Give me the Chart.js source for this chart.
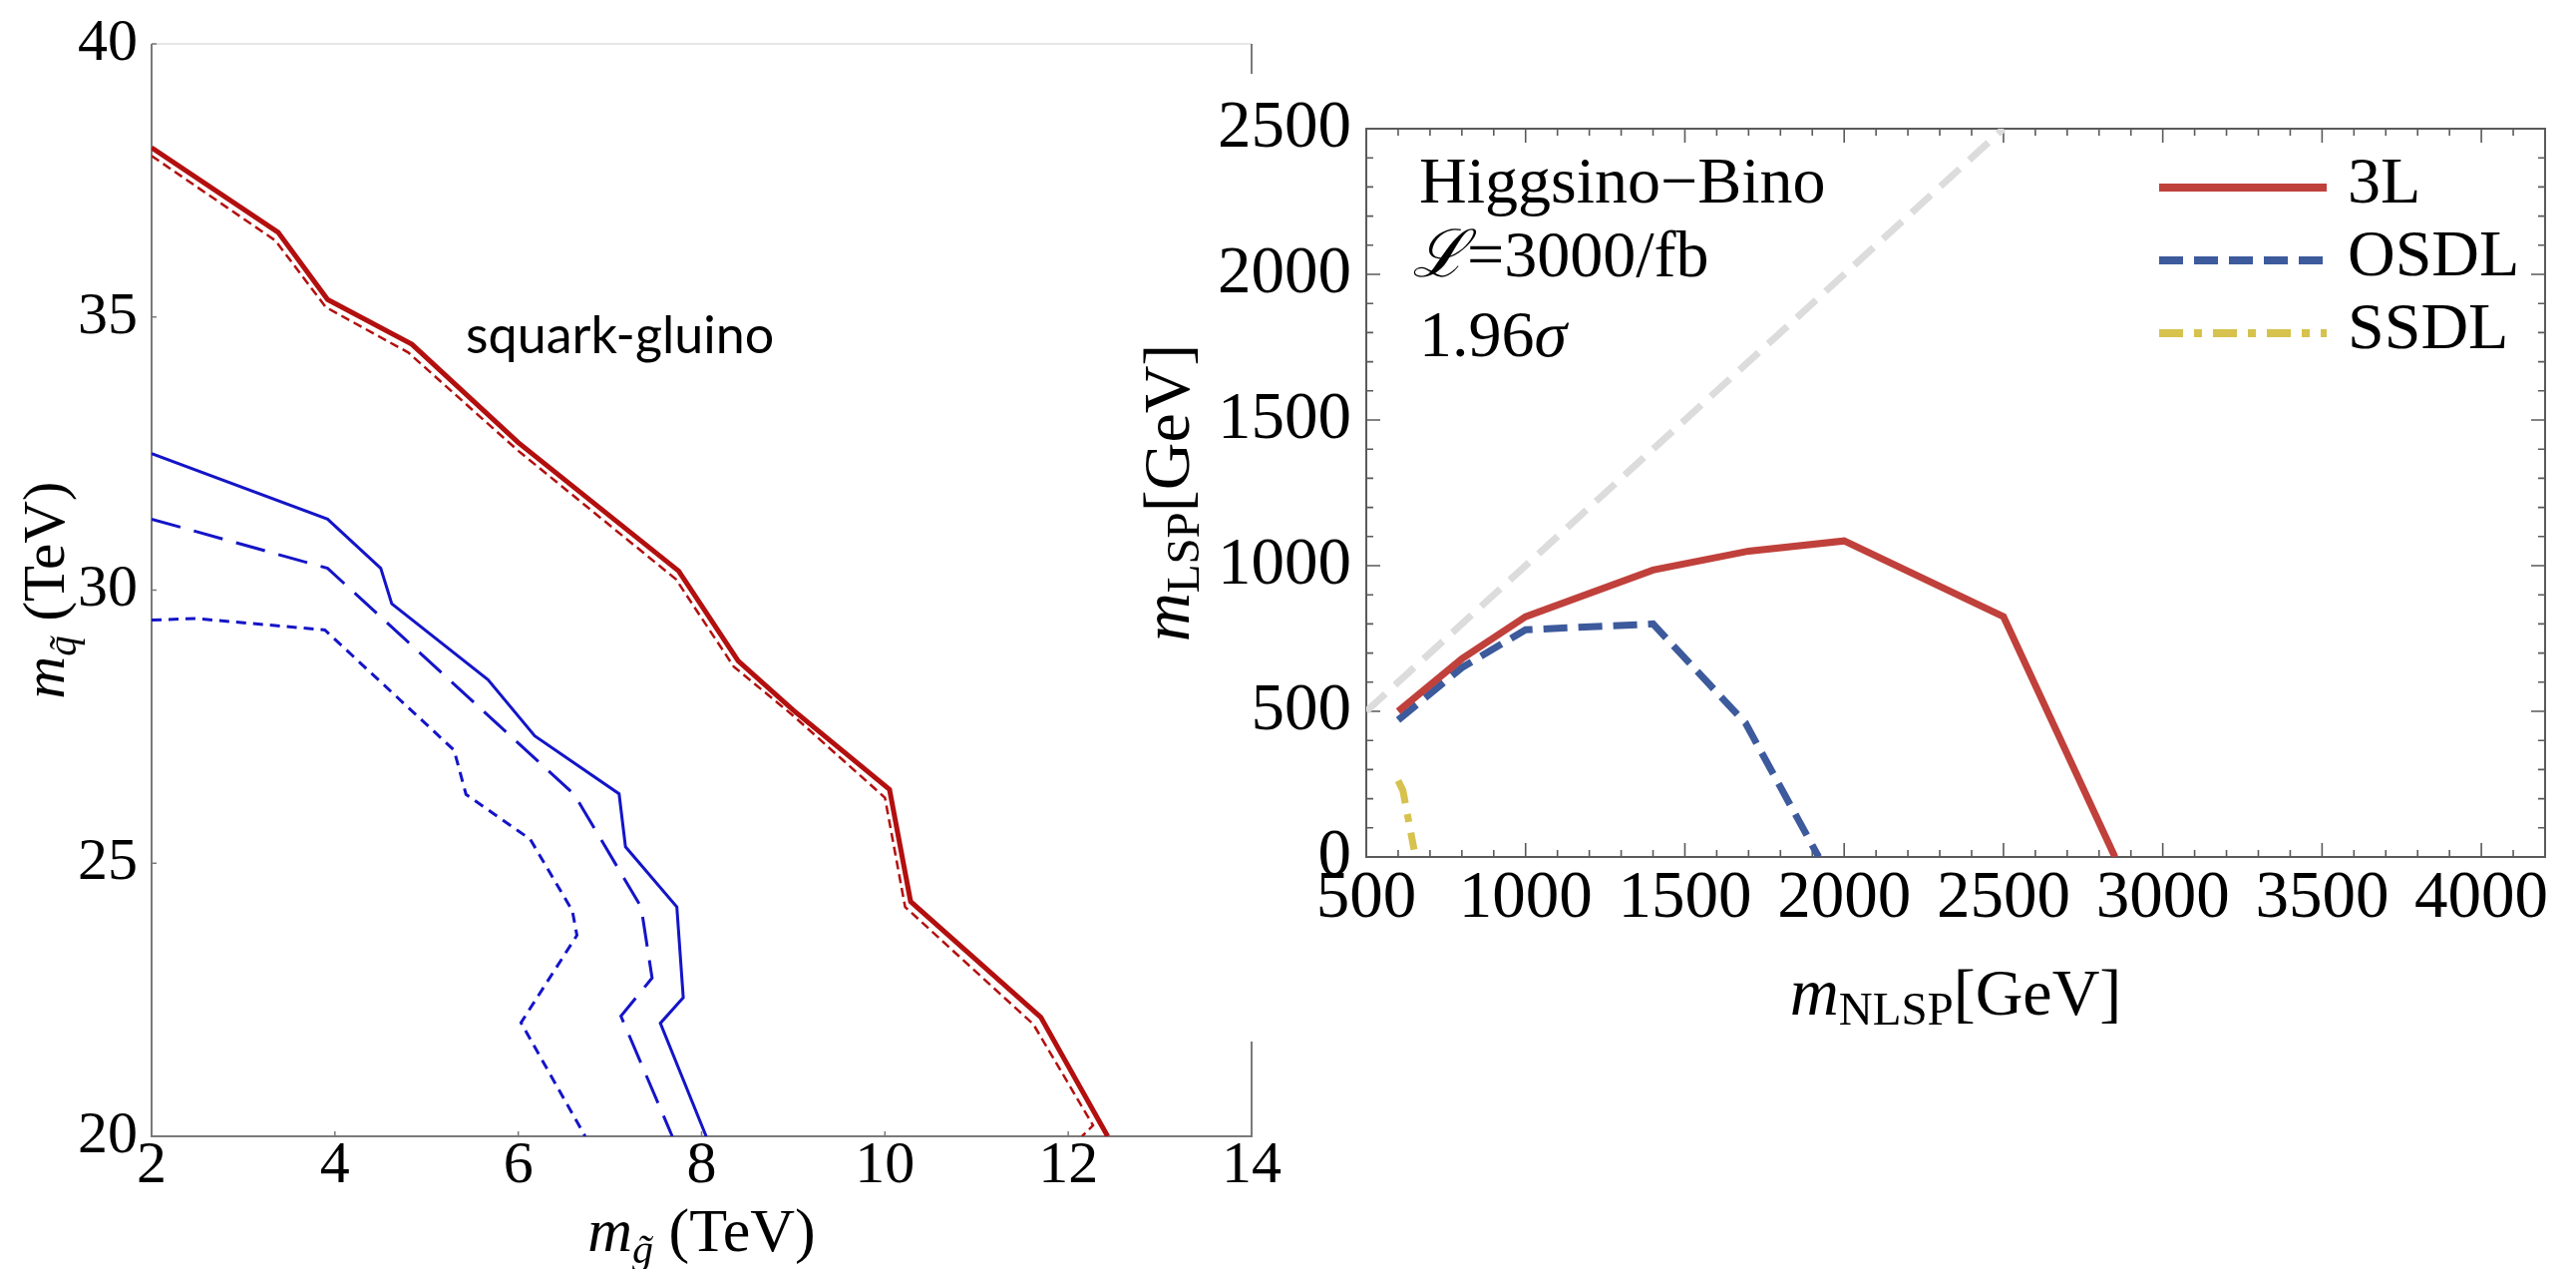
<!DOCTYPE html>
<html lang="en">
<head>
    <meta charset="UTF-8">
    <title>squark-gluino / Higgsino-Bino reach</title>
    <style>
        body { margin: 0; background: #fff; width: 2583px; height: 1272px; overflow: hidden; position: relative; }
        #left { position: absolute; left: 0; top: 0; z-index: 0; }
        #right-box { position: absolute; left: 1130px; top: 74px; width: 1453px; height: 970px; background: #fff; z-index: 1; }
        #right { position: absolute; left: 0; top: 0; }
    </style>
</head>
<body>
    <canvas id="left" width="1300" height="1272"></canvas>
    <div id="right-box"><canvas id="right" width="1453" height="970"></canvas></div>

    <script src="https://cdn.jsdelivr.net/npm/chart.js@4.4.1/dist/chart.umd.min.js"></script>
    <script>
        // ---- left panel: squark-gluino (TeV) ----
        const gluinoTicks = [2, 4, 6, 8, 10, 12, 14];
        const squarkTicks = [20, 25, 30, 35, 40];

        const redSolidX = [2, 3.38, 3.92, 4.84, 6.0, 7.75, 8.4, 9.0, 10.05, 10.28, 11.7, 12.43];
        const redSolidY = [38.1, 36.55, 35.32, 34.5, 32.7, 30.35, 28.7, 27.8, 26.35, 24.3, 22.18, 20];
        const redDashX = [2, 3.35, 3.9, 4.8, 6.0, 7.72, 8.35, 9.0, 10.0, 10.22, 11.62, 12.27, 12.15];
        const redDashY = [37.95, 36.4, 35.18, 34.35, 32.55, 30.2, 28.6, 27.7, 26.2, 24.2, 22.05, 20.2, 20];
        const blueSolidX = [2, 3.92, 4.5, 4.62, 5.67, 6.18, 7.1, 7.17, 7.73, 7.8, 7.55, 8.05];
        const blueSolidY = [32.5, 31.3, 30.4, 29.75, 28.36, 27.33, 26.27, 25.3, 24.2, 22.54, 22.07, 20];
        const blueLongX = [2, 3.92, 6.61, 7.34, 7.46, 7.12, 7.68];
        const blueLongY = [31.3, 30.4, 26.26, 24.2, 22.9, 22.2, 20];
        const blueShortX = [2, 2.48, 3.89, 5.3, 5.43, 6.13, 6.59, 6.64, 6.03, 6.73];
        const blueShortY = [29.45, 29.48, 29.27, 27.07, 26.26, 25.44, 24.13, 23.68, 22.08, 20];

        // ---- right panel: Higgsino-Bino (GeV) ----
        const nlspTicks = [500, 1000, 1500, 2000, 2500, 3000, 3500, 4000];
        const lspTicks = [0, 500, 1000, 1500, 2000, 2500];

        const threeLX = [600, 800, 1000, 1400, 1700, 2000, 2500, 2850];
        const threeLY = [500, 680, 825, 985, 1050, 1085, 825, 0];
        const osdlX = [600, 800, 1000, 1400, 1690, 1920];
        const osdlY = [470, 650, 780, 800, 460, 0];
        const ssdlX = [600, 615, 650];
        const ssdlY = [262, 228, 25];
        const diagX = [500, 2500];
        const diagY = [500, 2500];

        const serif = '"Liberation Serif", "Times New Roman", serif';

        function pts(xs, ys) {
            return xs.map((x, i) => ({ x: x, y: ys[i] }));
        }

        function line(xs, ys, color, width, dash, order) {
            return {
                data: pts(xs, ys),
                showLine: true,
                borderColor: color,
                borderWidth: width,
                borderDash: dash || [],
                pointRadius: 0,
                tension: 0,
                order: order || 0
            };
        }

        // draw a row of text pieces (for m with subscripts etc)
        function richText(ctx, parts, x, y, align) {
            let w = 0;
            parts.forEach(p => { ctx.font = p.font; w += ctx.measureText(p.text).width; });
            let cx = align === 'center' ? x - w / 2 : x;
            parts.forEach(p => {
                ctx.font = p.font;
                ctx.fillText(p.text, cx, y + (p.dy || 0));
                cx += ctx.measureText(p.text).width;
            });
        }

        const plain = v => String(v);

        const leftDecor = {
            id: 'leftDecor',
            beforeDatasetsDraw(chart) {
                const ctx = chart.ctx, a = chart.chartArea;
                const xs = chart.scales.x, ys = chart.scales.y;
                ctx.save();
                ctx.lineWidth = 2;
                ctx.strokeStyle = '#e6e6e6';
                ctx.beginPath(); ctx.moveTo(a.left, a.top); ctx.lineTo(a.right, a.top); ctx.stroke();
                ctx.strokeStyle = '#7a7a7a';
                ctx.beginPath();
                ctx.moveTo(a.left, a.top); ctx.lineTo(a.left, a.bottom);
                ctx.lineTo(a.right, a.bottom); ctx.lineTo(a.right, a.top);
                ctx.stroke();
                ctx.lineWidth = 1.5;
                gluinoTicks.forEach(v => {
                    const px = xs.getPixelForValue(v);
                    ctx.beginPath(); ctx.moveTo(px, a.bottom); ctx.lineTo(px, a.bottom - 5); ctx.stroke();
                });
                squarkTicks.forEach(v => {
                    const py = ys.getPixelForValue(v);
                    ctx.beginPath(); ctx.moveTo(a.left, py); ctx.lineTo(a.left + 5, py); ctx.stroke();
                });
                ctx.restore();
            },
            afterDraw(chart) {
                const ctx = chart.ctx, a = chart.chartArea;
                ctx.save();
                ctx.fillStyle = '#000';
                ctx.textBaseline = 'alphabetic';
                ctx.textAlign = 'left';
                ctx.font = '52px Lato, "Open Sans", sans-serif';
                ctx.fillText('squark-gluino', 467, 354);

                richText(ctx, [
                    { text: 'm', font: 'italic 62px ' + serif },
                    { text: 'g\u0303', font: 'italic 42px ' + serif, dy: 12 },
                    { text: ' (TeV)', font: '62px ' + serif }
                ], (a.left + a.right) / 2, 1254, 'center');

                ctx.translate(64, (a.top + a.bottom) / 2);
                ctx.rotate(-Math.PI / 2);
                richText(ctx, [
                    { text: 'm', font: 'italic 59px ' + serif },
                    { text: 'q\u0303', font: 'italic 41px ' + serif, dy: 12 },
                    { text: ' (TeV)', font: '59px ' + serif }
                ], 0, 0, 'center');
                ctx.restore();
            }
        };

        new Chart(document.getElementById('left'), {
            type: 'scatter',
            data: {
                datasets: [
                    line(redSolidX, redSolidY, '#b30f0f', 5),
                    line(redDashX, redDashY, '#b30f0f', 2.5, [9, 5]),
                    line(blueSolidX, blueSolidY, '#1414c8', 3),
                    line(blueLongX, blueLongY, '#1414c8', 3, [30, 14]),
                    line(blueShortX, blueShortY, '#1414c8', 3, [10, 7])
                ]
            },
            options: {
                responsive: false,
                animation: false,
                layout: { padding: { left: 0, top: 37, right: 45, bottom: 53 } },
                plugins: { legend: { display: false }, tooltip: { enabled: false } },
                scales: {
                    x: {
                        type: 'linear', min: 2, max: 14,
                        afterBuildTicks: s => { s.ticks = gluinoTicks.map(v => ({ value: v })); },
                        afterFit: s => { s.height = 80; },
                        grid: { display: false, drawTicks: false },
                        border: { display: false },
                        ticks: { padding: 0, color: '#000', maxRotation: 0, autoSkip: false, callback: plain,
                                 font: { family: serif, size: 60, lineHeight: 1 } }
                    },
                    y: {
                        type: 'linear', min: 20, max: 40,
                        afterBuildTicks: s => { s.ticks = squarkTicks.map(v => ({ value: v })); },
                        afterFit: s => { s.width = 152; },
                        grid: { display: false, drawTicks: false },
                        border: { display: false },
                        ticks: { padding: 14, color: '#000', autoSkip: false, callback: plain,
                                 font: { family: serif, size: 60, lineHeight: 1 } }
                    }
                }
            },
            plugins: [leftDecor]
        });

        const RED = '#c0403b', BLUE = '#3c5a9c', YELLOW = '#d6c24d', GREY = '#dcdcdc';

        const rightDecor = {
            id: 'rightDecor',
            beforeDatasetsDraw(chart) {
                const ctx = chart.ctx, a = chart.chartArea;
                const xs = chart.scales.x, ys = chart.scales.y;
                ctx.save();
                ctx.strokeStyle = '#5a5a5a';
                ctx.lineWidth = 1.6;
                // minor ticks every fifth of a major step, major ones longer
                for (let i = 0; i < nlspTicks.length; i++) {
                    for (let k = 0; k < 5; k++) {
                        const v = nlspTicks[i] + k * 100;
                        if (v > xs.max) continue;
                        const px = xs.getPixelForValue(v), len = k === 0 ? 14 : 7;
                        ctx.beginPath();
                        ctx.moveTo(px, a.bottom); ctx.lineTo(px, a.bottom - len);
                        ctx.moveTo(px, a.top); ctx.lineTo(px, a.top + len);
                        ctx.stroke();
                    }
                }
                for (let i = 0; i < lspTicks.length; i++) {
                    for (let k = 0; k < 5; k++) {
                        const v = lspTicks[i] + k * 100;
                        if (v > ys.max) continue;
                        const py = ys.getPixelForValue(v), len = k === 0 ? 14 : 7;
                        ctx.beginPath();
                        ctx.moveTo(a.left, py); ctx.lineTo(a.left + len, py);
                        ctx.moveTo(a.right, py); ctx.lineTo(a.right - len, py);
                        ctx.stroke();
                    }
                }
                ctx.lineWidth = 2;
                ctx.strokeRect(a.left, a.top, a.right - a.left, a.bottom - a.top);
                ctx.restore();
            },
            afterDraw(chart) {
                const ctx = chart.ctx, a = chart.chartArea;
                ctx.save();
                ctx.fillStyle = '#000';
                ctx.textBaseline = 'alphabetic';
                ctx.textAlign = 'left';
                ctx.font = '66px ' + serif;
                ctx.fillText('Higgsino\u2212Bino', a.left + 53, a.top + 74);
                richText(ctx, [
                    { text: '\u2112', font: 'italic 66px ' + serif },
                    { text: '=3000/fb', font: '66px ' + serif }
                ], a.left + 46, a.top + 148, 'left');
                richText(ctx, [
                    { text: '1.96', font: '66px ' + serif },
                    { text: '\u03c3', font: 'italic 66px ' + serif }
                ], a.left + 53, a.top + 228, 'left');

                // legend
                const rows = [
                    { label: '3L', color: RED, dash: [] },
                    { label: 'OSDL', color: BLUE, dash: [24, 11] },
                    { label: 'SSDL', color: YELLOW, dash: [24, 11, 8, 11] }
                ];
                rows.forEach((r, i) => {
                    const ly = a.top + 59 + i * 73;
                    ctx.strokeStyle = r.color;
                    ctx.lineWidth = 8;
                    ctx.setLineDash(r.dash);
                    ctx.beginPath(); ctx.moveTo(1035, ly); ctx.lineTo(1203, ly); ctx.stroke();
                    ctx.setLineDash([]);
                    ctx.font = '66px ' + serif;
                    ctx.fillText(r.label, 1224, ly + 15);
                });

                richText(ctx, [
                    { text: 'm', font: 'italic 68px ' + serif },
                    { text: 'NLSP', font: '47px ' + serif, dy: 10 },
                    { text: '[GeV]', font: '66px ' + serif }
                ], (a.left + a.right) / 2, 943, 'center');

                ctx.translate(62, (a.top + a.bottom) / 2);
                ctx.rotate(-Math.PI / 2);
                richText(ctx, [
                    { text: 'm', font: 'italic 68px ' + serif },
                    { text: 'LSP', font: '47px ' + serif, dy: 10 },
                    { text: '[GeV]', font: '66px ' + serif }
                ], 0, 0, 'center');
                ctx.restore();
            }
        };

        new Chart(document.getElementById('right'), {
            type: 'scatter',
            data: {
                datasets: [
                    line(diagX, diagY, GREY, 7, [26, 13], 10),
                    line(threeLX, threeLY, RED, 7, [], 1),
                    line(osdlX, osdlY, BLUE, 7, [24, 11], 2),
                    line(ssdlX, ssdlY, YELLOW, 7, [24, 11, 8, 11], 3)
                ]
            },
            options: {
                responsive: false,
                animation: false,
                layout: { padding: { left: 0, top: 55, right: 31, bottom: 85 } },
                plugins: { legend: { display: false }, tooltip: { enabled: false } },
                scales: {
                    x: {
                        type: 'linear', min: 500, max: 4200,
                        afterBuildTicks: s => { s.ticks = nlspTicks.map(v => ({ value: v })); },
                        afterFit: s => { s.height = 100; },
                        grid: { display: false, drawTicks: false },
                        border: { display: false },
                        ticks: { padding: 9, color: '#000', maxRotation: 0, autoSkip: false, callback: plain,
                                 font: { family: serif, size: 67, lineHeight: 1 } }
                    },
                    y: {
                        type: 'linear', min: 0, max: 2500,
                        afterBuildTicks: s => { s.ticks = lspTicks.map(v => ({ value: v })); },
                        afterFit: s => { s.width = 240; },
                        grid: { display: false, drawTicks: false },
                        border: { display: false },
                        ticks: { padding: 15, color: '#000', autoSkip: false, callback: plain,
                                 font: { family: serif, size: 67, lineHeight: 1 } }
                    }
                }
            },
            plugins: [rightDecor]
        });
    </script>
</body>
</html>
